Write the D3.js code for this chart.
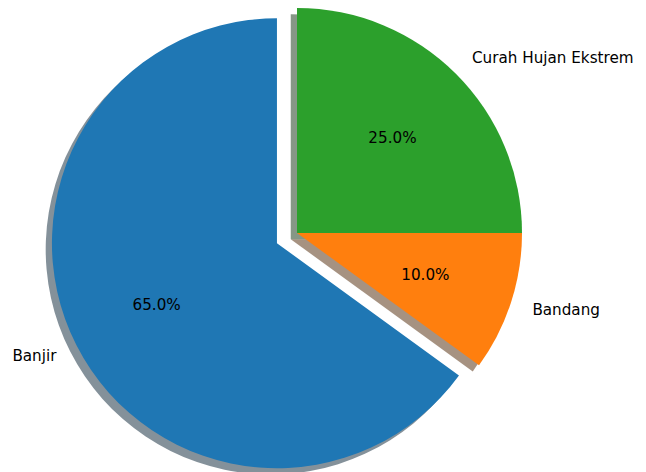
<!DOCTYPE html>
<html>
<head>
<meta charset="utf-8">
<script src="https://cdn.jsdelivr.net/npm/d3@7"></script>
<style>
  html, body { margin: 0; padding: 0; background: #fff; }
  svg { display: block; }
</style>
</head>
<body>
<svg id="chart" width="646" height="472"></svg>
<script>
const labels = ["Banjir", "Bandang", "Curah Hujan Ekstrem"];
const values = [65, 10, 25];
const explode = [0.1, 0, 0];
const colors = ["#1f77b4", "#ff7f0e", "#2ca02c"];

const W = 646, H = 472;
const cx = 297, cy = 233, R = 225;
const shadowOffset = 0.0278; // data units (0.02 * dpi/72)

const svg = d3.select("#chart");
// data-unit scales: unit circle -> pixels (y up)
const x = d3.scaleLinear().domain([-1, 1]).range([cx - R, cx + R]);
const y = d3.scaleLinear().domain([-1, 1]).range([cy + R, cy - R]);

const pie = d3.pie().sort(null).value(d => d).startAngle(0).endAngle(-2 * Math.PI);
const arcs = pie(values);
const arc = d3.arc().innerRadius(0).outerRadius(R);

function mid(a) { return (a.startAngle + a.endAngle) / 2; }
function dir(a) { const m = mid(a); return [Math.sin(m), Math.cos(m)]; }

const shadows = svg.append("g");
const wedges = svg.append("g");

arcs.forEach((a, i) => {
  const [dx, dy] = dir(a);
  const ex = explode[i];
  const px = x(dx * ex), py = y(dy * ex);
  const c = d3.rgb(colors[i]);
  shadows.append("path")
    .attr("d", arc(a))
    .attr("transform", `translate(${x(dx * ex - shadowOffset)},${y(dy * ex - shadowOffset)})`)
    .attr("fill", d3.rgb(c.r * 0.3, c.g * 0.3, c.b * 0.3))
    .attr("fill-opacity", 0.5);
  wedges.append("path")
    .attr("d", arc(a))
    .attr("transform", `translate(${px},${py})`)
    .attr("fill", colors[i]);
});

const txt = svg.append("g")
  .style("font-family", "'DejaVu Sans', sans-serif")
  .style("font-size", "15.2px")
  .attr("fill", "#000");

const total = d3.sum(values);
arcs.forEach((a, i) => {
  const [dx, dy] = dir(a);
  const ex = explode[i];
  const lx = dx * (ex + 1.1), ly = dy * (ex + 1.1);
  txt.append("text")
    .attr("x", x(lx)).attr("y", y(ly))
    .attr("dy", "0.35em")
    .attr("text-anchor", dx > 0 ? "start" : "end")
    .text(labels[i]);
  const qx = dx * (ex + 0.6), qy = dy * (ex + 0.6);
  txt.append("text")
    .attr("x", x(qx)).attr("y", y(qy))
    .attr("dy", "0.35em")
    .attr("text-anchor", "middle")
    .text((values[i] / total * 100).toFixed(1) + "%");
});
</script>
</body>
</html>
